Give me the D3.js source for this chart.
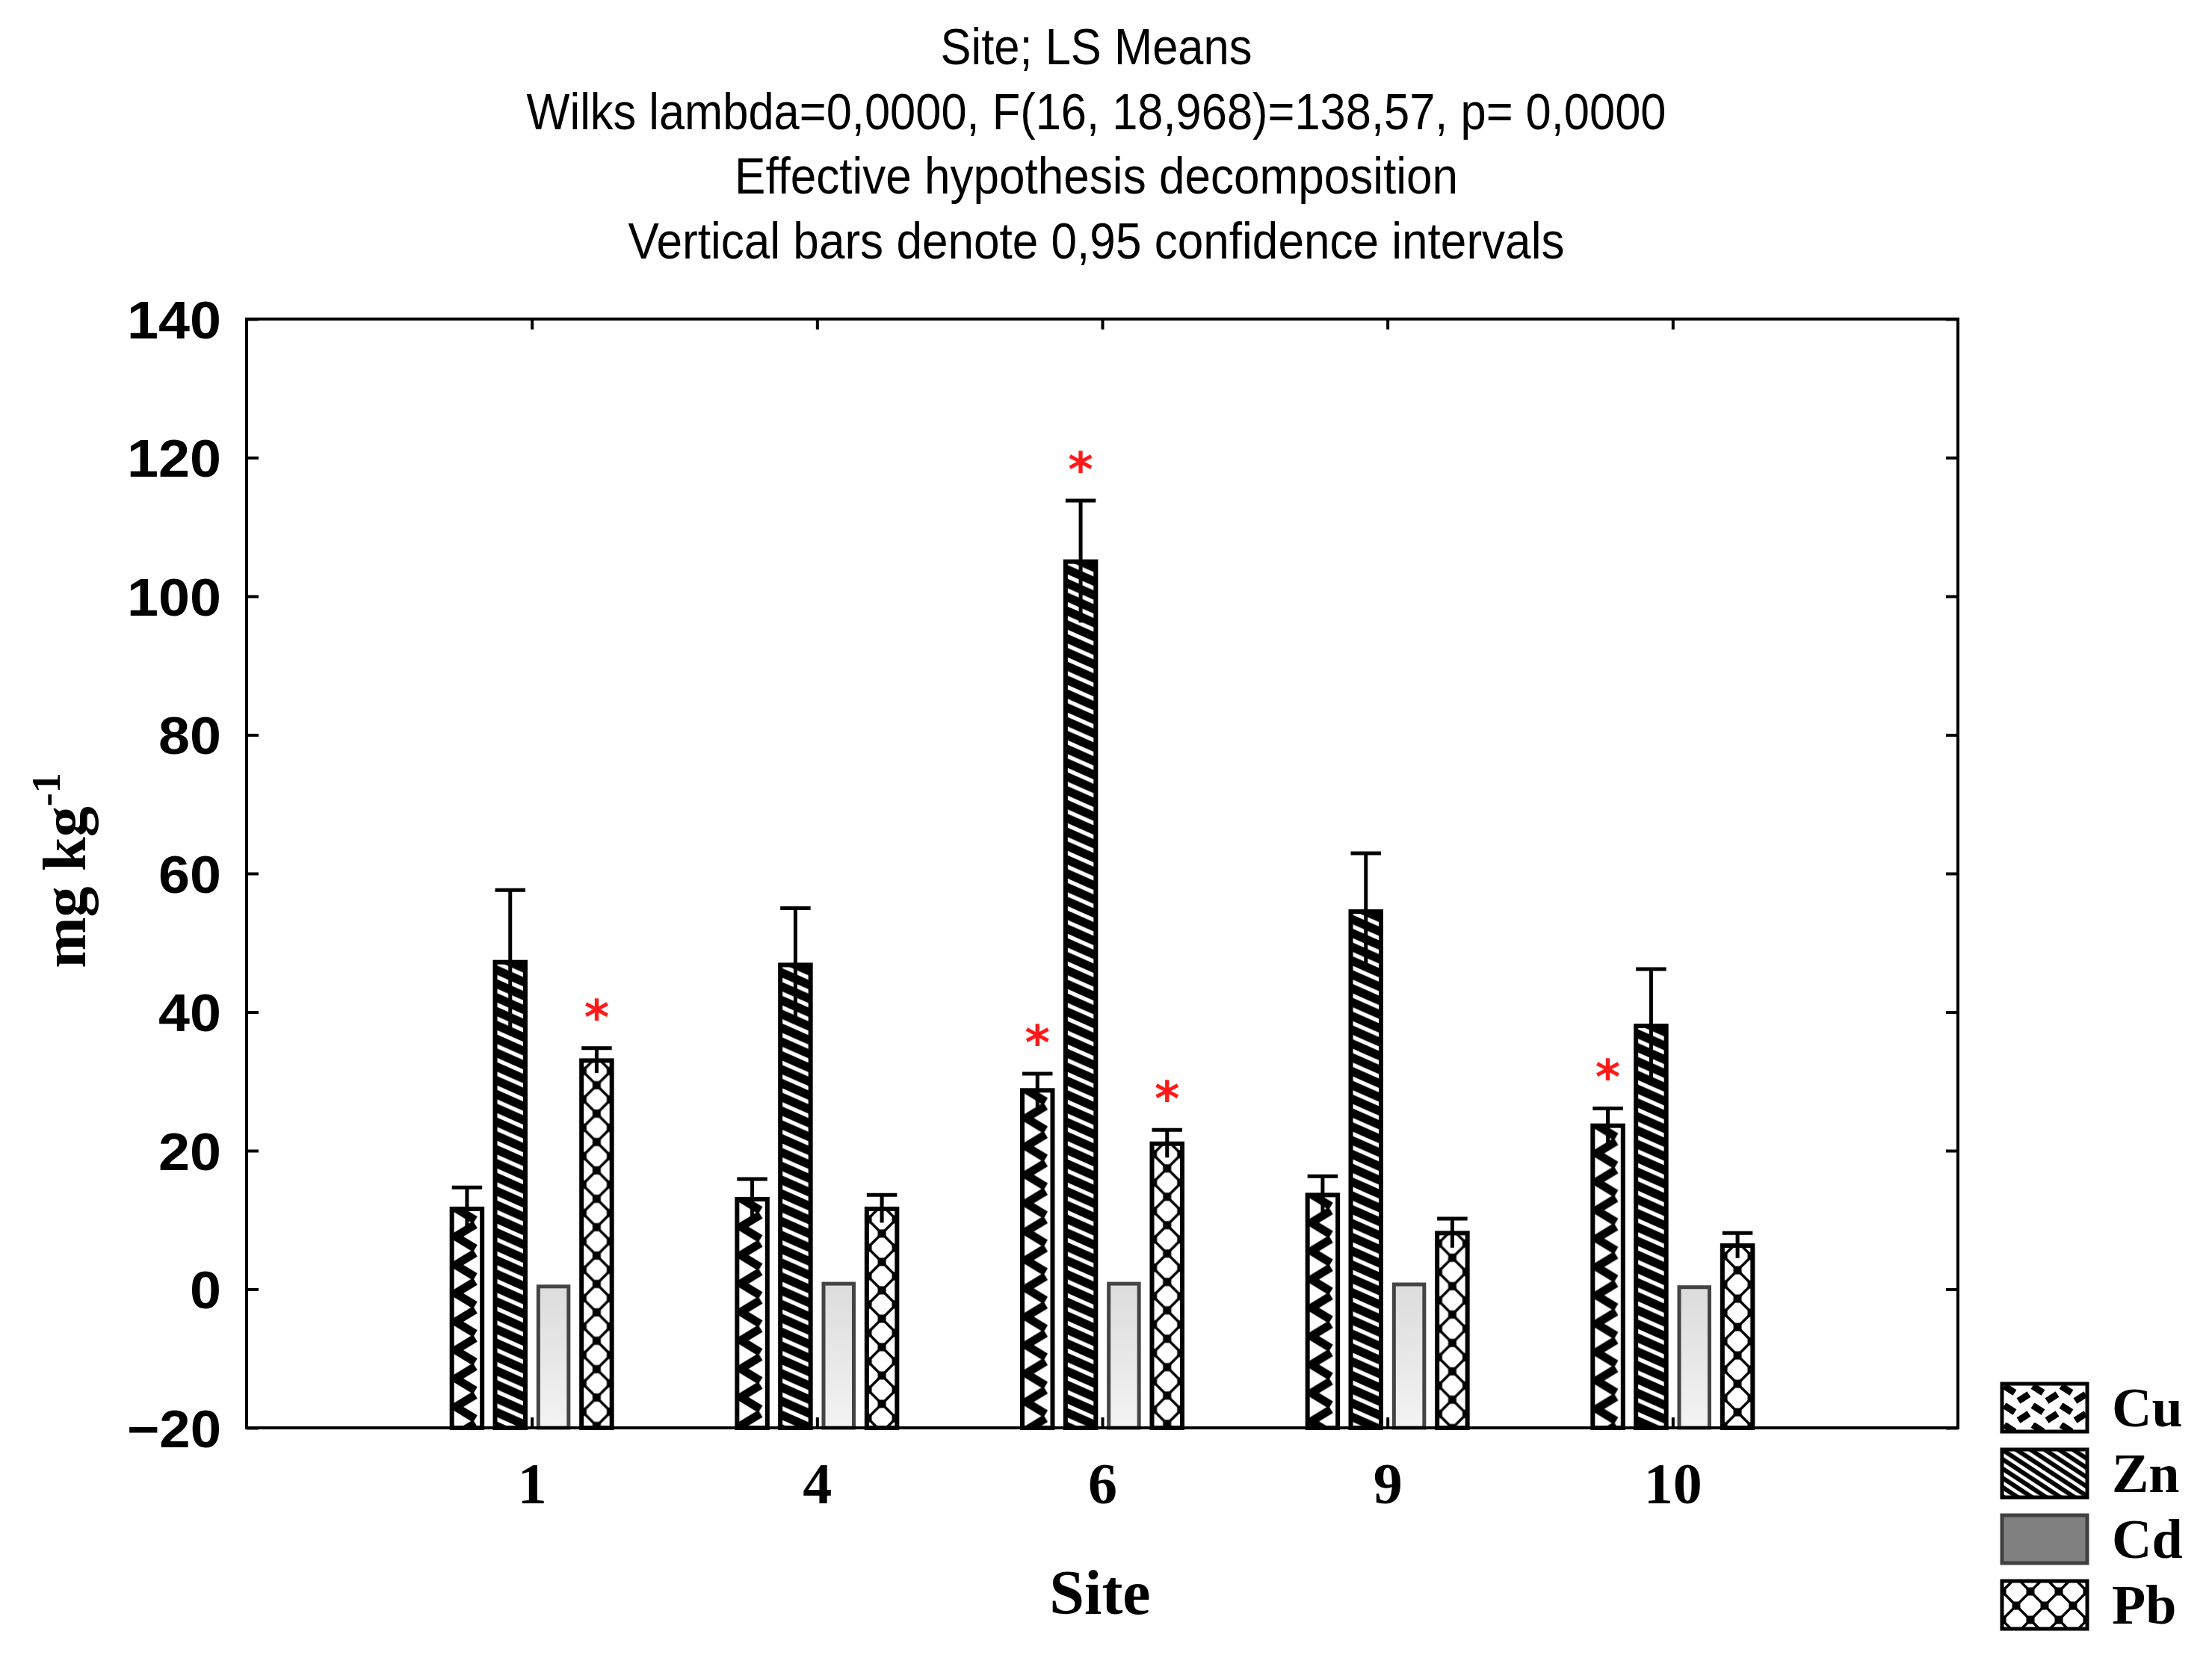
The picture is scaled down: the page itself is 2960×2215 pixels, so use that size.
<!DOCTYPE html>
<html><head><meta charset="utf-8">
<script src="https://cdn.jsdelivr.net/npm/d3@7"></script>
<style>body{margin:0;background:#fff}</style>
</head><body>
<svg id="c" width="2960" height="2215"></svg>
<script>
// ---- data ----
const sites = ["1", "4", "6", "9", "10"];
const metals = ["Cu", "Zn", "Cd", "Pb"];
const cuMean  = [11.6, 13.0, 28.7, 13.6, 23.6];
const cuUpper = [14.7, 15.9, 31.1, 16.3, 26.1];
const znMean  = [47.2, 46.8, 105.0, 54.5, 38.0];
const znUpper = [57.6, 55.0, 113.8, 62.9, 46.2];
const cdMean  = [0.4, 0.8, 0.8, 0.7, 0.3];
const cdUpper = [0.4, 0.8, 0.8, 0.7, 0.3];
const pbMean  = [33.0, 11.6, 21.0, 8.1, 6.3];
const pbUpper = [34.8, 13.6, 23.0, 10.2, 8.1];
const significant = [["1","Pb"],["6","Cu"],["6","Zn"],["6","Pb"],["10","Cu"]];
const yTicks = [-20, 0, 20, 40, 60, 80, 100, 120, 140];
const titleLines = [
  "Site; LS Means",
  "Wilks lambda=0,0000, F(16, 18,968)=138,57, p= 0,0000",
  "Effective hypothesis decomposition",
  "Vertical bars denote 0,95 confidence intervals"
];
const titleWidths = [417, 1525, 968, 1253];
const xTitle = "Site";

const means = {Cu: cuMean, Zn: znMean, Cd: cdMean, Pb: pbMean};
const uppers = {Cu: cuUpper, Zn: znUpper, Cd: cdUpper, Pb: pbUpper};
const rows = sites.flatMap((s, i) => metals.map(m => ({site: s, metal: m, mean: means[m][i], upper: uppers[m][i],
  sig: significant.some(d => d[0] === s && d[1] === m)})));

// ---- layout ----
const L = 330, R = 2620, T = 427, B = 1911;
const svg = d3.select("#c");
svg.append("rect").attr("width", 2960).attr("height", 2215).attr("fill", "#fff");

const x0 = d3.scalePoint().domain(sites).range([L, R]).padding(1);
const x1 = d3.scaleBand().domain(metals).range([-107, 107]).paddingInner(0.3);
const y = d3.scaleLinear().domain([-20, 140]).range([B, T]);
const bw = x1.bandwidth();
const bx = d => x0(d.site) + x1(d.metal);
const cx = d => bx(d) + bw / 2;

// ---- patterns ----
const defs = svg.append("defs");
function makePattern(id, metal, ox, oy, legend) {
  if (metal === "Cu") {
    const w = 38, h = legend ? 26 : 38;
    const p = defs.append("pattern").attr("id", id).attr("patternUnits", "userSpaceOnUse")
      .attr("x", ox - w / 2).attr("y", oy).attr("width", w).attr("height", h);
    p.append("rect").attr("width", w).attr("height", h).attr("fill", "#fff");
    if (legend) {
      p.append("path").attr("d", "M3,3 L17,12 M22,23 L36,14 M-16,23 L-2,14 M41,3 L55,12 M-16,-3 L-2,-12 M22,-3 L36,-12")
        .attr("stroke", "#000").attr("stroke-width", 9).attr("fill", "none");
    } else {
      p.append("path").attr("d", "M2,-2 L30,15 M30,21 L2,38 M2,36 L30,53 M30,-17 L2,0")
        .attr("stroke", "#000").attr("stroke-width", 11).attr("fill", "none");
    }
  } else if (metal === "Zn") {
    // "\" stripes: horizontal period W, vertical period H
    const W = legend ? 19 : 42, H = legend ? 12.5 : 18.5, thick = legend ? 6 : 11.5;
    const p = defs.append("pattern").attr("id", id).attr("patternUnits", "userSpaceOnUse")
      .attr("x", ox).attr("y", oy).attr("width", W).attr("height", H);
    p.append("rect").attr("width", W).attr("height", H).attr("fill", "#fff");
    const d = [-1, 0, 1].map(k => `M${-W},${-H + k * H} L${2 * W},${2 * H + k * H}`).join(" ");
    p.append("path").attr("d", d).attr("stroke", "#000").attr("stroke-width", thick).attr("fill", "none");
  } else if (metal === "Pb") {
    const w = 38;
    const p = defs.append("pattern").attr("id", id).attr("patternUnits", "userSpaceOnUse")
      .attr("x", ox - w / 2).attr("y", oy + 14).attr("width", w).attr("height", w);
    p.append("rect").attr("width", w).attr("height", w).attr("fill", "#fff");
    p.append("path").attr("d", `M0,0 L${w},${w} M${w},0 L0,${w}`).attr("stroke", "#000").attr("stroke-width", 3.5);
    [[0,0],[w,0],[0,w],[w,w],[w/2,w/2]].forEach(([a,b]) =>
      p.append("rect").attr("x", a - 5.5).attr("y", b - 5.5).attr("width", 11).attr("height", 11).attr("fill", "#000"));
  }
}
const g = defs.append("linearGradient").attr("id", "gCd").attr("x1", 0).attr("y1", 0).attr("x2", 0).attr("y2", 1);
g.append("stop").attr("offset", 0).attr("stop-color", "#dcdcdc");
g.append("stop").attr("offset", 1).attr("stop-color", "#f3f3f3");

rows.forEach((d, i) => { d.pid = "pb" + i; if (d.metal !== "Cd") makePattern(d.pid, d.metal, cx(d), y(d.mean), false); });

// ---- title ----
const titleFont = "'Liberation Sans', Arial, sans-serif";
svg.append("g").selectAll("text").data(titleLines).join("text")
  .attr("x", 1467).attr("y", (d, i) => 86 + i * 86.5)
  .attr("text-anchor", "middle").attr("font-family", titleFont).attr("font-size", 68)
  .attr("textLength", (d, i) => titleWidths[i]).attr("lengthAdjust", "spacingAndGlyphs")
  .attr("fill", "#000").text(d => d);

// ---- bars ----
const gb = svg.append("g");
gb.selectAll("rect.bar").data(rows).join("rect").attr("class", "bar")
  .attr("x", bx)
  .attr("y", d => y(d.mean))
  .attr("width", bw)
  .attr("height", d => y(-20) - y(d.mean))
  .attr("fill", d => d.metal === "Cd" ? "url(#gCd)" : `url(#${d.pid})`)
  .attr("stroke", d => d.metal === "Cd" ? "#444" : "#000")
  .attr("stroke-width", d => d.metal === "Cd" ? 5 : 6);

// error bars
const eb = rows.filter(d => d.upper > d.mean);
gb.selectAll("line.stem").data(eb).join("line").attr("class", "stem")
  .attr("x1", cx).attr("x2", cx)
  .attr("y1", d => y(d.upper)).attr("y2", d => y(2 * d.mean - d.upper))
  .attr("stroke", "#000").attr("stroke-width", 5);
gb.selectAll("line.cap").data(eb).join("line").attr("class", "cap")
  .attr("x1", bx).attr("x2", d => bx(d) + bw)
  .attr("y1", d => y(d.upper)).attr("y2", d => y(d.upper))
  .attr("stroke", "#000").attr("stroke-width", 5);

// asterisks
gb.selectAll("text.sig").data(rows.filter(d => d.sig)).join("text").attr("class", "sig")
  .attr("x", cx).attr("y", d => y(d.upper) - 19)
  .attr("text-anchor", "middle").attr("font-family", "'DejaVu Sans', sans-serif").attr("font-weight", "bold")
  .attr("font-size", 64).attr("fill", "#ff1a1a").text("*");

// ---- axes ----
const axisStyle = (sel) => {
  sel.select(".domain").remove();
  sel.selectAll(".tick line").attr("stroke", "#000").attr("stroke-width", 4);
};
const yFmt = d3.format("d");
svg.append("g").attr("transform", `translate(${L},0)`)
  .call(d3.axisLeft(y).tickValues(yTicks).tickFormat(d => yFmt(d)).tickSizeInner(-16).tickSizeOuter(0).tickPadding(34))
  .call(axisStyle)
  .call(s => s.selectAll(".tick text").attr("font-family", "'Liberation Sans', Arial, sans-serif")
     .attr("font-weight", "bold").attr("font-size", 70).attr("fill", "#000").attr("dy", "0.36em")
     .attr("textLength", d => yFmt(d).length * 42).attr("lengthAdjust", "spacingAndGlyphs"));
svg.append("g").attr("transform", `translate(${R},0)`)
  .call(d3.axisRight(y).tickValues(yTicks).tickSizeInner(-16).tickSizeOuter(0).tickFormat(""))
  .call(axisStyle);
svg.append("g").attr("transform", `translate(0,${B})`)
  .call(d3.axisBottom(x0).tickSizeInner(-14).tickSizeOuter(0).tickPadding(46))
  .call(axisStyle)
  .call(s => s.selectAll(".tick text").attr("font-family", "'Liberation Serif', 'Times New Roman', serif")
     .attr("font-weight", "bold").attr("font-size", 78).attr("fill", "#000").attr("dy", "0.71em"));
svg.append("g").attr("transform", `translate(0,${T})`)
  .call(d3.axisTop(x0).tickSizeInner(-14).tickSizeOuter(0).tickFormat(""))
  .call(axisStyle);

// frame
svg.append("rect").attr("x", L).attr("y", T).attr("width", R - L).attr("height", B - T)
  .attr("fill", "none").attr("stroke", "#000").attr("stroke-width", 4);

// axis titles
svg.append("text").attr("x", 1472).attr("y", 2160).attr("text-anchor", "middle")
  .attr("font-family", "'Liberation Serif', 'Times New Roman', serif").attr("font-weight", "bold")
  .attr("font-size", 84).attr("fill", "#000").text(xTitle);
const yt = svg.append("text").attr("transform", "translate(114,1165) rotate(-90)").attr("text-anchor", "middle")
  .attr("font-family", "'Liberation Serif', 'Times New Roman', serif").attr("font-weight", "bold")
  .attr("font-size", 82).attr("fill", "#000");
yt.append("tspan").text("mg kg");
yt.append("tspan").attr("dy", -34).attr("font-size", 54).text("-1");

// ---- legend ----
const LX = 2679, LY = 1852, LS = 88;
metals.forEach((m, i) => { if (m !== "Cd") makePattern("pl" + m, m, LX + 57, LY + i * LS, true); });
const lg = svg.append("g").selectAll("g").data(metals).join("g");
lg.append("rect").attr("x", LX).attr("y", (d, i) => LY + i * LS).attr("width", 114).attr("height", 64)
  .attr("fill", d => d === "Cd" ? "#808080" : `url(#pl${d})`)
  .attr("stroke", d => d === "Cd" ? "#404040" : "#000").attr("stroke-width", 5);
lg.append("text").attr("x", LX + 147).attr("y", (d, i) => LY + i * LS + 57)
  .attr("font-family", "'Liberation Serif', 'Times New Roman', serif").attr("font-weight", "bold")
  .attr("font-size", 74).attr("fill", "#000").text(d => d);
</script>
</body></html>
